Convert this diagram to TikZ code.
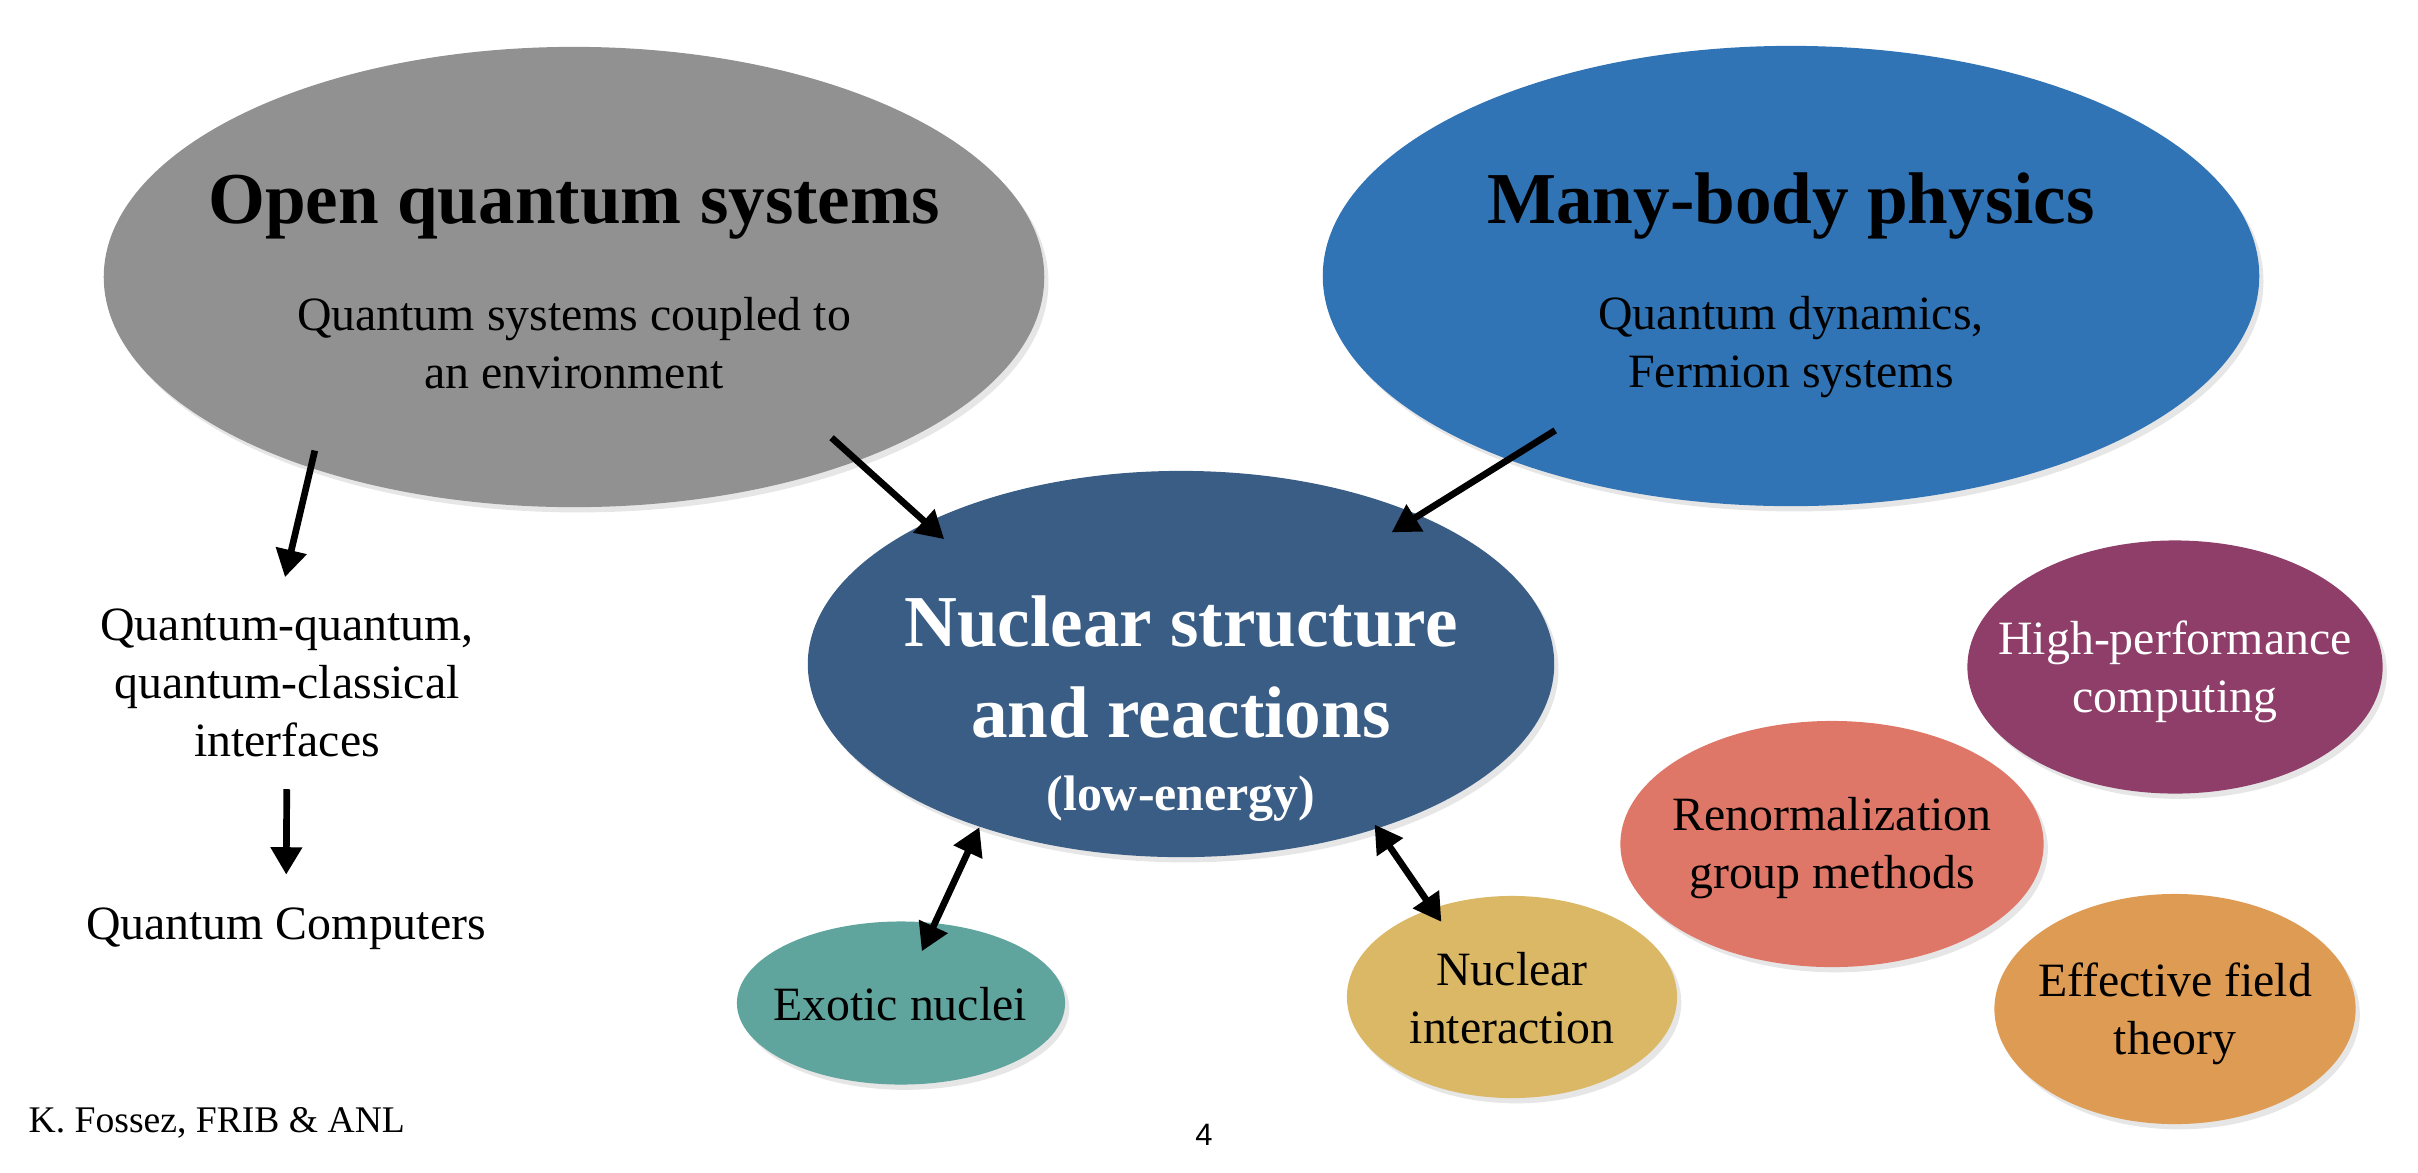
\documentclass[tikz,border=0pt]{standalone}
\usepackage{fontspec}
\setmainfont{Liberation Serif}
\newfontfamily\pagefont{Liberation Sans}
\usetikzlibrary{shapes.geometric,arrows.meta,shadows}

\definecolor{oqsgray}{HTML}{919191}
\definecolor{mbpblue}{HTML}{3174B5}
\definecolor{nsrblue}{HTML}{395D85}
\definecolor{exoteal}{HTML}{5FA59E}
\definecolor{nintyellow}{HTML}{DAB866}
\definecolor{rgmsalmon}{HTML}{DF7768}
\definecolor{hpcplum}{HTML}{8E3E69}
\definecolor{eftorange}{HTML}{DE9B53}

\tikzset{
  bubble/.style={ellipse, inner sep=0pt, fill=#1,
    drop shadow={shadow xshift=1.2pt, shadow yshift=-1.5pt, opacity=0.2}},
  headline/.style={font=\bfseries\fontsize{20.8}{25.9}\selectfont,
    anchor=base, inner sep=0pt, align=flush center, text width=9cm},
  caption/.style={font=\fontsize{13.6}{16.5}\selectfont,
    anchor=base, inner sep=0pt, align=flush center, text width=7cm},
  arr/.style={line width=1.9pt, -{Triangle[length=7.8pt,width=8.6pt]}},
  dblarr/.style={line width=1.9pt, {Triangle[length=7.8pt,width=8.6pt]}-{Triangle[length=7.8pt,width=8.6pt]}}
}

\begin{document}
\begin{tikzpicture}[x=0.01cm, y=-0.01cm]
    \useasboundingbox (0,0) rectangle (2418,1172);

    % Ellissi
    \node[bubble=oqsgray, minimum width=9.4cm, minimum height=4.6cm] (oqs) at (574,277) {};
    \node[bubble=mbpblue, minimum width=9.36cm, minimum height=4.6cm] (mbp) at (1791,276) {};
    \node[bubble=nsrblue, minimum width=7.46cm, minimum height=3.86cm] (nsr) at (1181,664) {};
    \node[bubble=exoteal, minimum width=3.28cm, minimum height=1.63cm] (exo) at (901,1003) {};
    \node[bubble=nintyellow, minimum width=3.3cm, minimum height=2.02cm] (nint) at (1512,997) {};
    \node[bubble=rgmsalmon, minimum width=4.23cm, minimum height=2.46cm] (rgm) at (1832,844) {};
    \node[bubble=hpcplum, minimum width=4.15cm, minimum height=2.53cm] (hpc) at (2175,667) {};
    \node[bubble=eftorange, minimum width=3.61cm, minimum height=2.3cm] (eft) at (2175,1009) {};

    % Testi
    \node[headline] (oqstitle) at (574,223) {Open quantum systems};
    \node[caption] (oqstext) at (574,330) {Quantum systems coupled to\\an environment};
    \node[headline] (mbptitle) at (1791,223) {Many-body physics};
    \node[caption] (mbptext) at (1791,329) {Quantum dynamics,\\Fermion systems};
    \node[headline, text=white] (nsrtitle) at (1181,646) {Nuclear structure\\and reactions};
    \node[headline, text=white, font=\bfseries\fontsize{14.2}{17}\selectfont] (nsrnote) at (1181,810) {(low-energy)};
    \node[caption] (exotext) at (900,1020) {Exotic nuclei};
    \node[caption] (ninttext) at (1512,985) {Nuclear\\interaction};
    \node[caption] (rgmtext) at (1832,830) {Renormalization\\group methods};
    \node[caption, text=white] (hpctext) at (2175,654) {High-performance\\computing};
    \node[caption] (efttext) at (2175,996) {Effective field\\theory};
    \node[caption] (qq) at (287,640) {Quantum-quantum,\\quantum-classical\\interfaces};
    \node[caption] (qc) at (286,939) {Quantum Computers};
    \node[anchor=base west, inner sep=0pt, font=\fontsize{10.7}{13}\selectfont] (author) at (28,1132) {K. Fossez, FRIB \& ANL};
    \node[anchor=base, inner sep=0pt, font=\pagefont\fontsize{8.8}{10}\selectfont] (pagenum) at (1204,1145) {4};

    % Frecce
    \draw[arr, shorten <=-10pt, shorten >=-7.1pt] (oqs.-33.6) -- (nsr.151.3);
    \draw[arr, shorten <=-15.9pt, shorten >=-9.4pt] (mbp.213) -- (nsr.32.5);
    \draw[arr, shorten <=-5.2pt, shorten >=8.9pt] (oqs.216.4) -- (qq.97.6);
    \draw[arr, shorten <=9.1pt, shorten >=9.1pt] (qq.south) -- (qc.north);
    \draw[dblarr, shorten >=-9pt] (nsr.219.3) -- (exo.67.5);
    \draw[dblarr, shorten <=-1.5pt, shorten >=-4.8pt] (nsr.-40.3) -- (nint.132.6);
\end{tikzpicture}
\end{document}
